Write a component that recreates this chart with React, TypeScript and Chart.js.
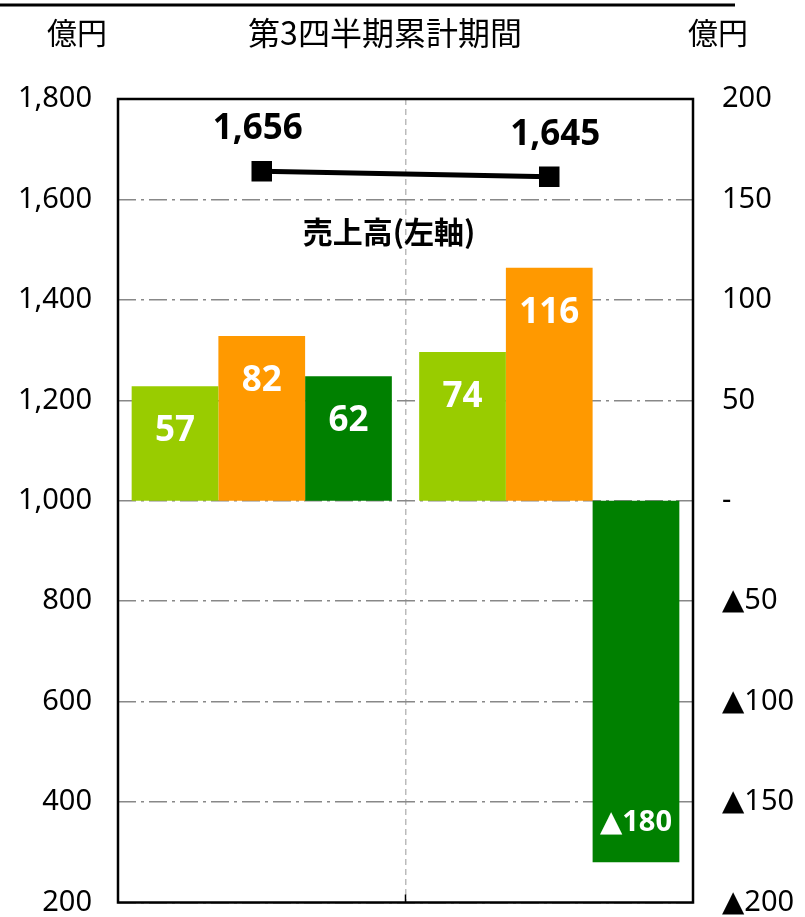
import React, { useEffect, useRef } from "react";
import { Chart, registerables } from "chart.js";

Chart.register(...registerables);

const categories = ["前期", "当期"];
const salesValues = [1656, 1645];
const seriesA = [57, 74];
const seriesB = [82, 116];
const seriesC = [62, -180];
const seriesNames = ["営業利益", "経常利益", "当期純利益"];
const seriesColors = ["#99CC00", "#FF9900", "#008000"];
const salesLabel = "売上高(左軸)";
const headerTitle = "第3四半期累計期間";
const unitLabel = "億円";

const fmtLeft = (v: number) => v.toLocaleString("en-US");
const fmtRight = (v: number) => (v === 0 ? "-" : v < 0 ? "▲" + Math.abs(v) : String(v));

const annotatePlugin = {
  id: "annotate",
  afterDatasetsDraw(chart: any) {
    const ctx = chart.ctx;
    const area = chart.chartArea;
    ctx.save();
    [0, 1, 2].forEach((di) => {
      const meta = chart.getDatasetMeta(di);
      const data = chart.data.datasets[di].data as number[];
      meta.data.forEach((el: any, i: number) => {
        const v = data[i];
        ctx.fillStyle = "#ffffff";
        ctx.textAlign = "center";
        ctx.textBaseline = "middle";
        if (v >= 0) {
          ctx.font = "bold 35px 'Noto Sans', sans-serif";
          ctx.fillText(fmtRight(v), el.x, el.y + 45);
        } else {
          ctx.font = "bold 29px 'Noto Sans', 'DejaVu Sans', sans-serif";
          ctx.fillText(fmtRight(v), el.x, el.y - 40);
        }
      });
    });
    const lmeta = chart.getDatasetMeta(3);
    lmeta.data.forEach((el: any, i: number) => {
      ctx.fillStyle = "#000000";
      ctx.textAlign = "center";
      ctx.textBaseline = "middle";
      ctx.font = "bold 35px 'Noto Sans', sans-serif";
      ctx.fillText(fmtLeft(salesValues[i]), el.x + (i === 0 ? -4 : 6), el.y - 42);
    });
    ctx.font = "bold 30px 'Noto Sans CJK JP', sans-serif";
    ctx.fillText(salesLabel, 389, 232);
    ctx.strokeStyle = "#000000";
    ctx.lineWidth = 2.5;
    ctx.strokeRect(area.left, area.top, area.right - area.left, area.bottom - area.top);
    const mid = (area.left + area.right) / 2;
    ctx.lineWidth = 1.5;
    ctx.beginPath();
    ctx.moveTo(mid, area.bottom);
    ctx.lineTo(mid, area.bottom - 8);
    ctx.stroke();
    ctx.restore();
  },
  afterDraw(chart: any) {
    const ctx = chart.ctx;
    ctx.save();
    ctx.strokeStyle = "#000000";
    ctx.lineWidth = 3;
    ctx.beginPath();
    ctx.moveTo(0, 5);
    ctx.lineTo(735, 5);
    ctx.stroke();
    ctx.fillStyle = "#000000";
    ctx.textBaseline = "middle";
    ctx.font = "30px 'Noto Sans CJK JP', sans-serif";
    ctx.textAlign = "left";
    ctx.fillText(unitLabel, 47, 33);
    ctx.fillText(unitLabel, 688, 33);
    ctx.textAlign = "center";
    ctx.font = "32px 'Noto Sans CJK JP', sans-serif";
    ctx.fillText(headerTitle, 385, 33);
    ctx.restore();
  },
};

export default function App() {
  const ref = useRef<HTMLCanvasElement | null>(null);
  useEffect(() => {
    if (!ref.current) return;
    const chart = new Chart(ref.current, {
      type: "bar",
      data: {
        labels: categories,
        datasets: [
          ...[seriesA, seriesB, seriesC].map((d, i) => ({
            type: "bar" as const,
            label: seriesNames[i],
            data: d,
            backgroundColor: seriesColors[i],
            yAxisID: "y1",
            barPercentage: 1.0,
            categoryPercentage: 0.905,
            order: 2,
          })),
          {
            type: "line" as const,
            label: salesLabel,
            data: salesValues,
            yAxisID: "y",
            borderColor: "#000000",
            borderWidth: 5,
            pointStyle: "rect",
            pointRadius: 14.5,
            pointBackgroundColor: "#000000",
            pointBorderColor: "#000000",
            pointBorderWidth: 0,
            order: 1,
          } as any,
        ],
      },
      options: {
        animation: false,
        responsive: true,
        maintainAspectRatio: false,
        layout: { padding: { top: 99, bottom: 14, left: 0, right: 0 } },
        plugins: { legend: { display: false }, tooltip: { enabled: false } },
        scales: {
          x: {
            offset: true,
            ticks: { display: false },
            grid: { display: true, offset: true, color: "#bbbbbb", lineWidth: 1.5, drawTicks: false },
            border: { display: false, dash: [6, 4] },
            afterFit: (s: any) => { s.height = 0; },
          },
          y: {
            position: "left",
            min: 200,
            max: 1800,
            ticks: {
              stepSize: 200,
              padding: 0,
              color: "#000000",
              font: { family: "'Noto Sans', sans-serif", size: 29, lineHeight: 0.9 },
              callback: (v: any) => fmtLeft(Number(v)),
            },
            grid: { color: "#888888", lineWidth: 1.5, drawTicks: true, tickLength: 26, tickColor: "rgba(0,0,0,0)" },
            border: { display: false, dash: [18, 5, 3, 5] },
            afterFit: (s: any) => { s.width = 118; },
          },
          y1: {
            position: "right",
            min: -200,
            max: 200,
            ticks: {
              stepSize: 50,
              padding: 0,
              color: "#000000",
              font: { family: "'Noto Sans', 'DejaVu Sans', sans-serif", size: 29, lineHeight: 0.9 },
              callback: (v: any) => fmtRight(Number(v)),
            },
            grid: { display: false, drawOnChartArea: false, drawTicks: true, tickLength: 29, tickColor: "rgba(0,0,0,0)" },
            border: { display: false },
            afterFit: (s: any) => { s.width = 112; },
          },
        },
      },
      plugins: [annotatePlugin],
    });
    return () => chart.destroy();
  }, []);
  return (
    <div style={{ position: "absolute", left: 0, top: 0, width: 805, height: 917, background: "#ffffff" }}>
      <canvas ref={ref} />
    </div>
  );
}
